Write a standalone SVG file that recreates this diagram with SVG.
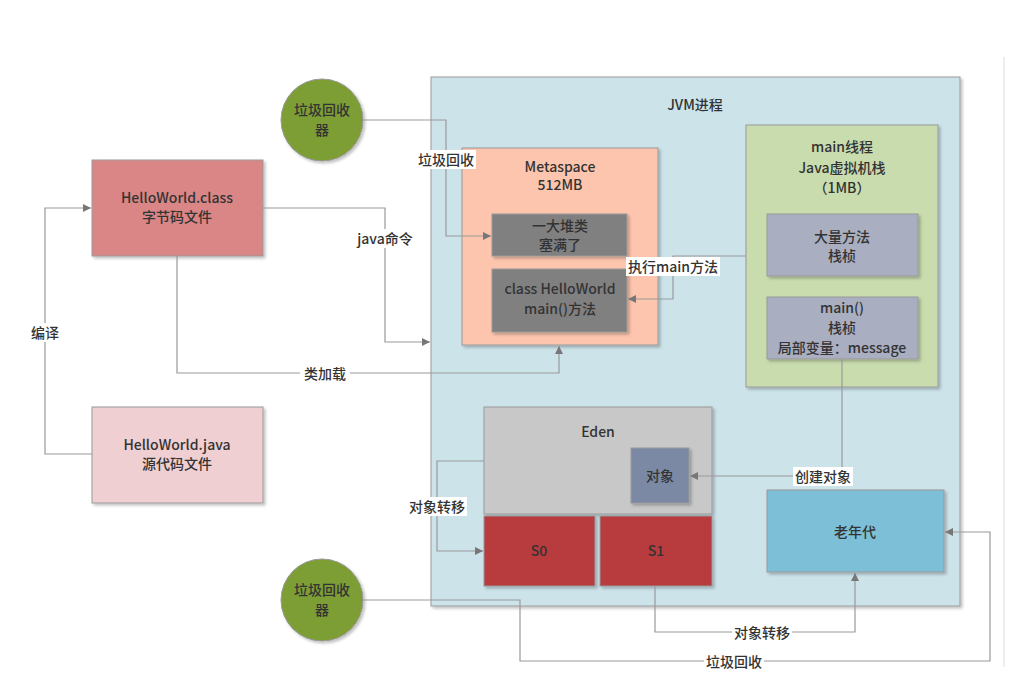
<svg xmlns="http://www.w3.org/2000/svg" width="1016" height="687" viewBox="0 0 1016 687">
<defs>
<filter id="sh" x="-10%" y="-10%" width="130%" height="130%">
<feOffset dx="2" dy="2" in="SourceAlpha" result="o"/>
<feGaussianBlur in="o" stdDeviation="1.5" result="b"/>
<feComponentTransfer in="b" result="c"><feFuncA type="linear" slope="0.25"/></feComponentTransfer>
<feMerge><feMergeNode in="c"/><feMergeNode in="SourceGraphic"/></feMerge>
</filter>
<marker id="arr" markerWidth="10" markerHeight="10" refX="9" refY="5" orient="auto" markerUnits="userSpaceOnUse">
<path d="M1,1 L9,5 L1,9 Z" fill="#777"/>
</marker>
<style>
text{font-family:"Noto Sans CJK SC","Noto Sans",sans-serif;font-size:14px;font-weight:500;fill:#333;text-anchor:middle;}
.box{stroke:#999;stroke-width:1;filter:url(#sh);}
.ln{fill:none;stroke:#999;stroke-width:1.2;}
.lbl{fill:#fff;}
</style>
</defs>
<rect width="1016" height="687" fill="#fff"/>
<line x1="1004" y1="57" x2="1004" y2="667" stroke="#ddd" stroke-width="1"/>

<g id="jvm">
<rect class="box" x="431" y="77" width="529" height="529" fill="#cce3ea"/>
<text x="695" y="110">JVM进程</text>
</g>

<g id="metaspace">
<rect class="box" x="462" y="148" width="196" height="197" fill="#fdc5ad"/>
<text x="560" y="172">Metaspace</text>
<text x="560" y="190">512MB</text>
</g>
<g id="classes">
<rect class="box" x="492" y="214" width="135" height="42" fill="#808080"/>
<text x="560" y="231">一大堆类</text>
<text x="560" y="250">塞满了</text>
</g>
<g id="helloclass">
<rect class="box" x="492" y="269" width="135" height="63" fill="#808080"/>
<text x="560" y="294">class HelloWorld</text>
<text x="560" y="314">main()方法</text>
</g>

<g id="mainthread">
<rect class="box" x="746" y="125" width="192" height="262" fill="#c9dcae"/>
<text x="842" y="152">main线程</text>
<text x="842" y="173">Java虚拟机栈</text>
<text x="842" y="193">（1MB）</text>
</g>
<g id="frame1">
<rect class="box" x="767" y="214" width="151" height="62" fill="#a9aec0"/>
<text x="842" y="242">大量方法</text>
<text x="842" y="261">栈桢</text>
</g>
<g id="frame2">
<rect class="box" x="767" y="297" width="151" height="62" fill="#a9aec0"/>
<text x="842" y="313">main()</text>
<text x="842" y="333">栈桢</text>
<text x="842" y="353">局部变量：message</text>
</g>

<g id="eden">
<rect class="box" x="484" y="407" width="228" height="107" fill="#c8c8c8"/>
<text x="598" y="437">Eden</text>
</g>
<g id="object">
<rect class="box" x="631" y="448" width="58" height="55" fill="#7b89a5"/>
<text x="660" y="481">对象</text>
</g>
<g id="s0">
<rect class="box" x="484" y="516" width="111" height="70" fill="#b83b3e"/>
<text x="539" y="556">S0</text>
</g>
<g id="s1">
<rect class="box" x="600" y="516" width="112" height="70" fill="#b83b3e"/>
<text x="656" y="556">S1</text>
</g>
<g id="oldgen">
<rect class="box" x="767" y="490" width="177" height="82" fill="#7bbfd6"/>
<text x="855" y="537">老年代</text>
</g>

<g id="classfile">
<rect class="box" x="92" y="160" width="171" height="96" fill="#da8686"/>
<text x="177" y="203">HelloWorld.class</text>
<text x="177" y="222">字节码文件</text>
</g>
<g id="javafile">
<rect class="box" x="92" y="407" width="171" height="96" fill="#efcfd2"/>
<text x="177" y="450">HelloWorld.java</text>
<text x="177" y="469">源代码文件</text>
</g>

<g id="gc1">
<circle class="box" cx="322" cy="120" r="41" fill="#7d9e35"/>
<text x="322" y="115">垃圾回收</text>
<text x="322" y="135">器</text>
</g>
<g id="gc2">
<circle class="box" cx="322" cy="600" r="41" fill="#7d9e35"/>
<text x="322" y="595">垃圾回收</text>
<text x="322" y="615">器</text>
</g>

<g id="connectors">
<polyline class="ln" points="92,454 45,454 45,208 91,208" marker-end="url(#arr)"/>
<polyline class="ln" points="263,208 385,208 385,342 430,342" marker-end="url(#arr)"/>
<polyline class="ln" points="177,256 177,373 559,373 559,346" marker-end="url(#arr)"/>
<polyline class="ln" points="363,120 446,120 446,236 491,236" marker-end="url(#arr)"/>
<polyline class="ln" points="746,256 673,256 673,299 628,299" marker-end="url(#arr)"/>
<polyline class="ln" points="842,359 842,476 690,476" marker-end="url(#arr)"/>
<polyline class="ln" points="484,461 437,461 437,551 483,551" marker-end="url(#arr)"/>
<polyline class="ln" points="655,586 655,632 855,632 855,573" marker-end="url(#arr)"/>
<polyline class="ln" points="363,600 520,600 520,661 990,661 990,532 945,532" marker-end="url(#arr)"/>

<rect class="lbl" x="27" y="323" width="36" height="19"/>
<text x="45" y="338">编译</text>
<rect class="lbl" x="355" y="229" width="60" height="19"/>
<text x="385" y="244">java命令</text>
<rect class="lbl" x="300" y="364" width="50" height="19"/>
<text x="325" y="379">类加载</text>
<rect class="lbl" x="416" y="150" width="60" height="19"/>
<text x="446" y="165">垃圾回收</text>
<rect class="lbl" x="626" y="257" width="94" height="19"/>
<text x="673" y="272">执行main方法</text>
<rect class="lbl" x="793" y="467" width="60" height="19"/>
<text x="823" y="482">创建对象</text>
<rect class="lbl" x="407" y="497" width="60" height="19"/>
<text x="437" y="512">对象转移</text>
<rect class="lbl" x="732" y="623" width="60" height="19"/>
<text x="762" y="638">对象转移</text>
<rect class="lbl" x="704" y="652" width="60" height="19"/>
<text x="734" y="667">垃圾回收</text>
</g>
</svg>
